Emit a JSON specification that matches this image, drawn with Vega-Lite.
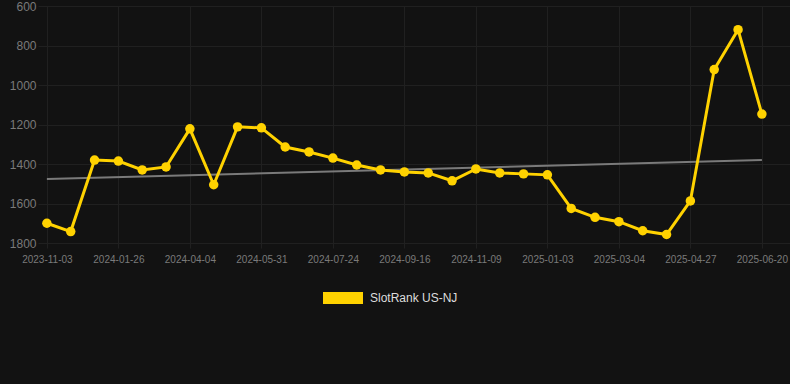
{
  "$schema": "https://vega.github.io/schema/vega-lite/v6.json",
  "autosize": {"type": "none"},
  "width": 752,
  "height": 237,
  "padding": {"left": 38, "top": 6, "right": 0, "bottom": 141},
  "background": "#121212",
  "config": {
    "view": {"stroke": null},
    "font": "Liberation Sans"
  },
  "datasets": {
    "ranks": [
      {"date": "2023-11-03", "rank": 1700},
      {"date": "2023-11-30", "rank": 1742},
      {"date": "2023-12-28", "rank": 1380},
      {"date": "2024-01-26", "rank": 1385},
      {"date": "2024-02-18", "rank": 1430},
      {"date": "2024-03-12", "rank": 1415},
      {"date": "2024-04-04", "rank": 1222},
      {"date": "2024-04-23", "rank": 1505},
      {"date": "2024-05-12", "rank": 1212},
      {"date": "2024-05-31", "rank": 1217},
      {"date": "2024-06-18", "rank": 1314},
      {"date": "2024-07-06", "rank": 1339},
      {"date": "2024-07-24", "rank": 1370},
      {"date": "2024-08-11", "rank": 1405},
      {"date": "2024-08-29", "rank": 1430},
      {"date": "2024-09-16", "rank": 1440},
      {"date": "2024-10-04", "rank": 1445},
      {"date": "2024-10-22", "rank": 1485},
      {"date": "2024-11-09", "rank": 1425},
      {"date": "2024-11-27", "rank": 1445},
      {"date": "2024-12-15", "rank": 1450},
      {"date": "2025-01-03", "rank": 1455},
      {"date": "2025-01-23", "rank": 1625},
      {"date": "2025-02-12", "rank": 1670},
      {"date": "2025-03-04", "rank": 1692},
      {"date": "2025-03-22", "rank": 1738},
      {"date": "2025-04-09", "rank": 1757},
      {"date": "2025-04-27", "rank": 1587},
      {"date": "2025-05-15", "rank": 922},
      {"date": "2025-06-02", "rank": 720},
      {"date": "2025-06-20", "rank": 1147}
    ],
    "trend": [
      {"date": "2023-11-03", "rank": 1476},
      {"date": "2025-06-20", "rank": 1380}
    ]
  },
  "layer": [
    {
      "data": {"name": "trend"},
      "mark": {"type": "line", "color": "#7a7a7a", "strokeWidth": 2},
      "encoding": {}
    },
    {
      "data": {"name": "ranks"},
      "mark": {"type": "line", "strokeWidth": 3},
      "encoding": {
        "color": {
          "datum": "SlotRank US-NJ",
          "scale": {"range": ["#ffd200"]},
          "legend": {
            "title": null,
            "orient": "none",
            "legendX": 285,
            "legendY": 272,
            "symbolType": "M-1,-0.3H1V0.3H-1Z",
            "symbolSize": 1600,
            "labelColor": "#dddddd",
            "labelFontSize": 12,
            "labelOffset": 7,
            "encode": {
              "symbols": {
                "update": {
                  "fill": {"value": "#ffd200"},
                  "stroke": {"value": "#ffd200"},
                  "strokeWidth": {"value": 0},
                  "opacity": {"value": 1}
                }
              }
            }
          }
        }
      }
    },
    {
      "data": {"name": "ranks"},
      "mark": {"type": "point", "filled": true, "opacity": 1, "color": "#ffd200", "size": 90},
      "encoding": {}
    }
  ],
  "encoding": {
    "x": {
      "field": "date",
      "type": "ordinal",
      "sort": null,
      "scale": {
        "type": "point",
        "padding": 0.776,
        "align": 0.24,
        "domain": ["2023-11-03", "2023-11-30", "2023-12-28", "2024-01-26", "2024-02-18", "2024-03-12", "2024-04-04", "2024-04-23", "2024-05-12", "2024-05-31", "2024-06-18", "2024-07-06", "2024-07-24", "2024-08-11", "2024-08-29", "2024-09-16", "2024-10-04", "2024-10-22", "2024-11-09", "2024-11-27", "2024-12-15", "2025-01-03", "2025-01-23", "2025-02-12", "2025-03-04", "2025-03-22", "2025-04-09", "2025-04-27", "2025-05-15", "2025-06-02", "2025-06-20"]
      },
      "axis": {
        "title": null,
        "values": ["2023-11-03", "2024-01-26", "2024-04-04", "2024-05-31", "2024-07-24", "2024-09-16", "2024-11-09", "2025-01-03", "2025-03-04", "2025-04-27", "2025-06-20"],
        "labelAngle": 0,
        "labelColor": "#7a7a7a",
        "labelFontSize": 10,
        "labelPadding": 6,
        "grid": true,
        "gridColor": "#202020",
        "domain": false,
        "tickColor": "#202020",
        "tickSize": 5
      }
    },
    "y": {
      "field": "rank",
      "type": "quantitative",
      "scale": {"domain": [600, 1800], "reverse": true, "nice": false},
      "axis": {
        "title": null,
        "values": [600, 800, 1000, 1200, 1400, 1600, 1800],
        "format": "d",
        "labelColor": "#7a7a7a",
        "labelFontSize": 12,
        "labelPadding": 2,
        "ticks": false,
        "domain": false,
        "grid": true,
        "gridColor": "#202020"
      }
    }
  }
}
